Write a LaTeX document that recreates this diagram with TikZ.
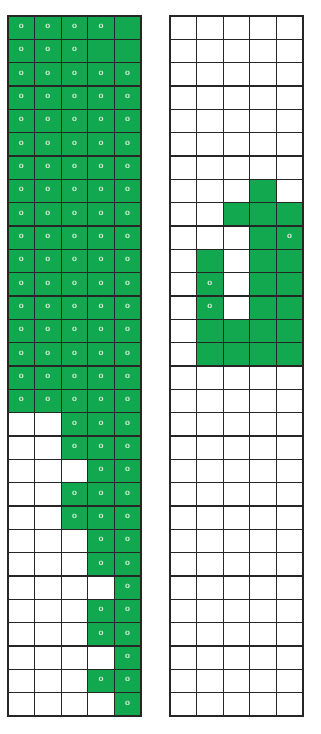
\documentclass[tikz,border=0pt]{standalone}
\usepackage{tikz}
\definecolor{vert}{HTML}{12A84F}
\definecolor{anneau}{HTML}{D6F0DA}
\begin{document}
\begin{tikzpicture}[x=1pt,y=-1pt,
  casev/.style={fill=vert},
  marque/.style={font=\sffamily\bfseries\small,text=anneau,inner sep=0pt},
  trait/.style={draw=black!85,line width=1.2pt}]
  \fill[white] (0,0) rectangle (321,734);
  \useasboundingbox (0,0) rectangle (321,734);
  \def\cw{26.6}
  \def\ch{23.333}
  % Grille gauche : ligne / cases blanches / derniere colonne marquee
  \foreach \r/\n/\m in {1/0/4,2/0/3,3/0/5,4/0/5,5/0/5,6/0/5,7/0/5,8/0/5,9/0/5,10/0/5,
    11/0/5,12/0/5,13/0/5,14/0/5,15/0/5,16/0/5,17/0/5,18/2/5,19/2/5,20/3/5,
    21/2/5,22/2/5,23/3/5,24/3/5,25/4/5,26/3/5,27/3/5,28/4/5,29/3/5,30/4/5}{
    \pgfmathtruncatemacro\prem{\n+1}
    \foreach \c in {\prem,...,5}
      \fill[casev] ({8+(\c-1)*\cw},{16+(\r-1)*\ch}) rectangle ++(\cw,\ch);
    \foreach \c in {\prem,...,\m}
      \node[marque] (g-\r-\c) at ({8+(\c-0.5)*\cw},{16+(\r-0.55)*\ch}) {o};
  }
  % Grille droite
  \foreach \r/\c in {8/4,9/3,9/4,9/5,10/4,10/5,11/2,11/4,11/5,12/2,12/4,12/5,
    13/2,13/4,13/5,14/2,14/3,14/4,14/5,15/2,15/3,15/4,15/5}
    \fill[casev] ({170+(\c-1)*\cw},{16+(\r-1)*\ch}) rectangle ++(\cw,\ch);
  \foreach \r/\c in {10/5,12/2,13/2}
    \node[marque] (d-\r-\c) at ({170+(\c-0.5)*\cw},{16+(\r-0.55)*\ch}) {o};
  % Traits
  \foreach \x in {8,170}{
    \foreach \i in {0,...,5}
      \draw[trait] ({\x+\i*\cw},16) -- ({\x+\i*\cw},716);
    \foreach \j in {0,...,30}
      \draw[trait] ({\x-0.6},{16+\j*\ch}) -- ({\x+5*\cw+0.6},{16+\j*\ch});
  }
\end{tikzpicture}
\end{document}
